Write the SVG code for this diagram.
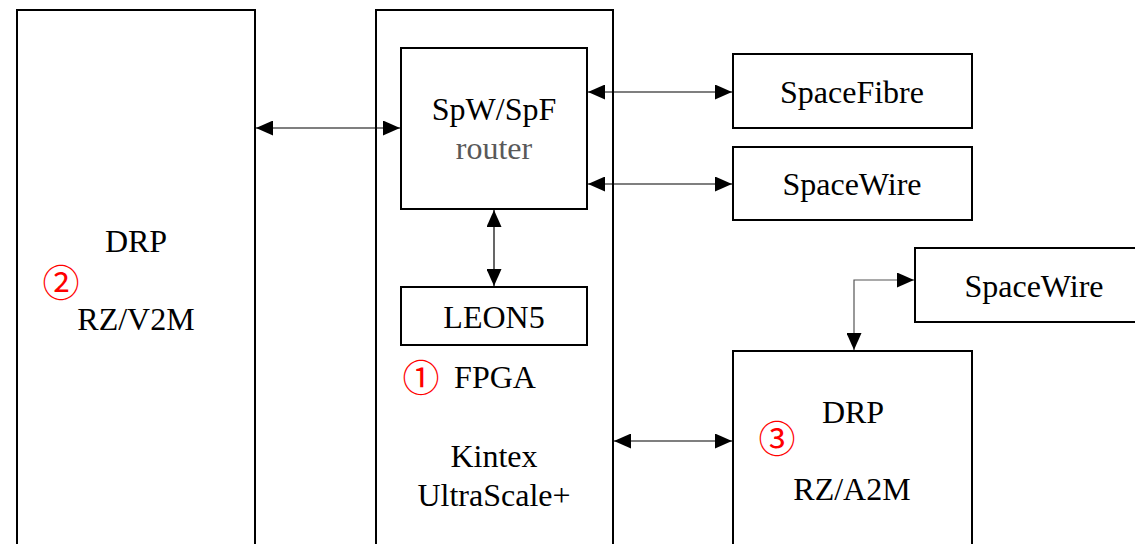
<svg xmlns="http://www.w3.org/2000/svg" width="1135" height="544" viewBox="0 0 1135 544">
<style>
.box{fill:#fff;stroke:#000;stroke-width:2}
.t{font-family:"Liberation Serif","Times New Roman",serif;font-size:32px;fill:#000;text-anchor:middle}
.num{font-family:"Noto Sans CJK JP",sans-serif;font-size:37px;fill:#f00;text-anchor:middle}
.c{fill:none;stroke:#000;stroke-width:1.2}
</style>
<defs>
<marker id="ah" markerUnits="userSpaceOnUse" markerWidth="17" markerHeight="15" refX="17" refY="7.5" orient="auto-start-reverse" viewBox="0 0 17 15">
<path d="M0,0 L17,7.5 L0,15 z" fill="#000"/>
</marker>
</defs>
<rect width="1135" height="544" fill="#fff"/>
<g id="rzv2m">
<rect class="box" x="17" y="10" width="238" height="560"/>
<text class="t" x="136" y="252">DRP</text>
<text class="num" x="61" y="297">②</text>
<text class="t" x="136" y="330">RZ/V2M</text>
</g>
<g id="fpga">
<rect class="box" x="376" y="10" width="237" height="560"/>
<text class="num" x="421" y="392">①</text>
<text class="t" x="495" y="388">FPGA</text>
<text class="t" x="494" y="467">Kintex</text>
<text class="t" x="494" y="506">UltraScale+</text>
</g>
<g id="router">
<rect class="box" x="401" y="48" width="186" height="161"/>
<text class="t" x="494" y="120">SpW/SpF</text>
<text class="t" x="494" y="159" style="fill:#595959">router</text>
</g>
<g id="leon5">
<rect class="box" x="401" y="287" width="186" height="58"/>
<text class="t" x="494" y="328">LEON5</text>
</g>
<g id="spacefibre">
<rect class="box" x="733" y="54" width="239" height="74"/>
<text class="t" x="852" y="103">SpaceFibre</text>
</g>
<g id="spacewire1">
<rect class="box" x="733" y="147" width="239" height="73"/>
<text class="t" x="852" y="195">SpaceWire</text>
</g>
<g id="spacewire2">
<rect class="box" x="915" y="248" width="240" height="74"/>
<text class="t" x="1034" y="297">SpaceWire</text>
</g>
<g id="rza2m">
<rect class="box" x="733" y="351" width="239" height="220"/>
<text class="t" x="853" y="423">DRP</text>
<text class="num" x="777" y="453">③</text>
<text class="t" x="852" y="500">RZ/A2M</text>
</g>
<g id="connectors">
<line class="c" x1="256" y1="128" x2="400" y2="128" marker-start="url(#ah)" marker-end="url(#ah)"/>
<line class="c" x1="588" y1="92" x2="732" y2="92" marker-start="url(#ah)" marker-end="url(#ah)"/>
<line class="c" x1="588" y1="184" x2="732" y2="184" marker-start="url(#ah)" marker-end="url(#ah)"/>
<line class="c" x1="494" y1="210" x2="494" y2="286" marker-start="url(#ah)" marker-end="url(#ah)"/>
<line class="c" x1="614" y1="441" x2="732" y2="441" marker-start="url(#ah)" marker-end="url(#ah)"/>
<path class="c" d="M914,280 H854 V350" style="stroke:#555" marker-start="url(#ah)" marker-end="url(#ah)"/>
</g>
</svg>
